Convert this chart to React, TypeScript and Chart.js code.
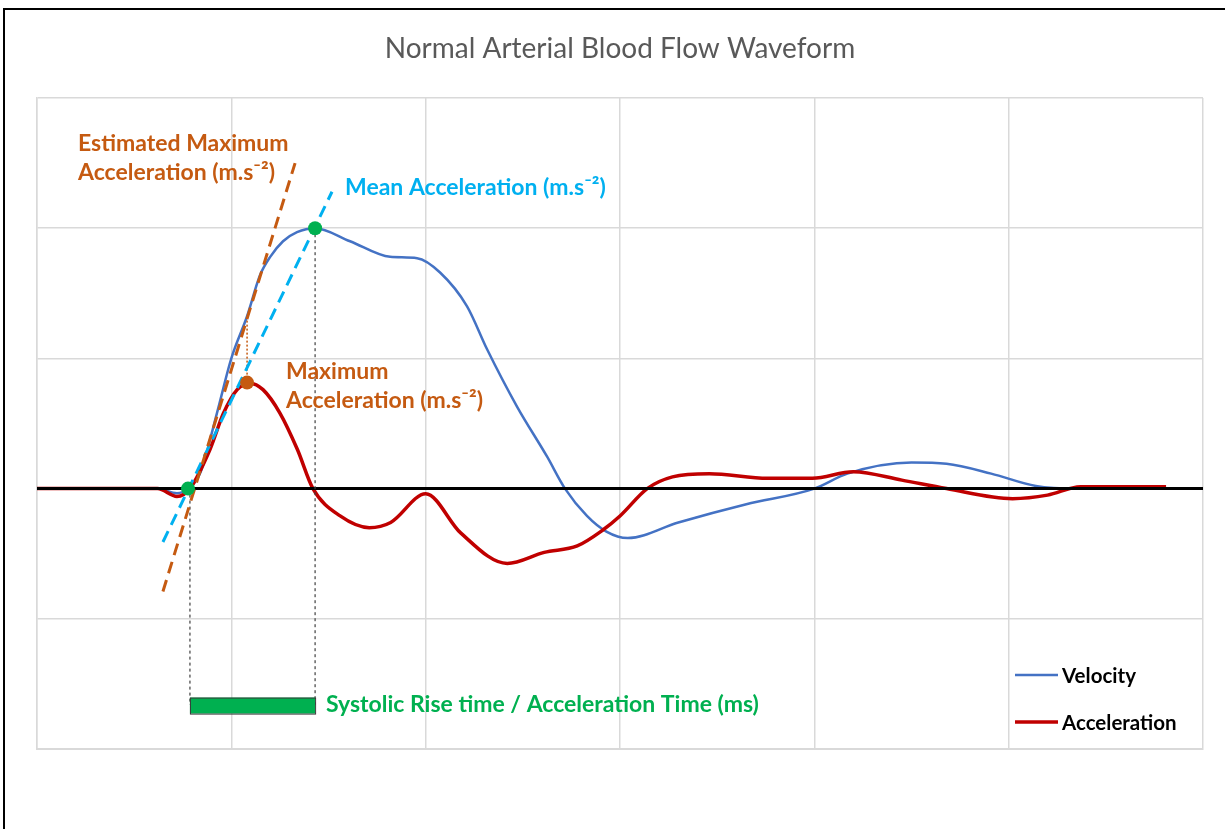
import React, { useEffect, useRef } from "react";
import { Chart, registerables } from "chart.js";

Chart.register(...registerables);

// ---- Data (x in 100 ms units, y in arbitrary units) ----
const velocityX = [0, 0.5, 0.62, 0.72, 0.777, 0.84, 0.926, 1.0, 1.08, 1.148, 1.2, 1.266, 1.338, 1.431, 1.611, 1.817, 1.956, 2.074, 2.213, 2.316, 2.47, 2.625, 2.717, 2.83, 2.93, 3.04, 3.3, 3.65, 4.0, 4.17, 4.5, 4.68, 4.91, 5.14, 5.35, 5.81];
const velocityY = [0, 0, 0, -0.035, 0, 0.12, 0.58, 1.0, 1.32, 1.64, 1.78, 1.9, 1.97, 2.0, 1.9, 1.78, 1.77, 1.66, 1.4, 1.07, 0.63, 0.245, 0, -0.21, -0.33, -0.38, -0.26, -0.12, 0, 0.115, 0.2, 0.19, 0.115, 0.02, 0, 0];

const accelerationX = [0, 0.5, 0.62, 0.72, 0.787, 0.89, 0.96, 1.03, 1.096, 1.163, 1.25, 1.34, 1.42, 1.56, 1.71, 1.82, 2.0, 2.18, 2.42, 2.61, 2.78, 2.91, 3.0, 3.14, 3.27, 3.46, 3.76, 3.99, 4.2, 4.45, 4.68, 5.02, 5.2, 5.37, 5.81];
const accelerationY = [0, 0, 0.0, -0.06, 0, 0.3, 0.58, 0.76, 0.81, 0.76, 0.58, 0.3, 0, -0.21, -0.3, -0.26, -0.04, -0.34, -0.575, -0.49, -0.44, -0.32, -0.21, 0, 0.09, 0.115, 0.08, 0.08, 0.13, 0.065, 0, -0.077, -0.05, 0.015, 0.015];

const estMaxLineX = [0.648, 1.328];
const estMaxLineY = [-0.79, 2.5];
const meanLineX = [0.648, 1.518];
const meanLineY = [-0.41, 2.28];
const keyPointsX = [0.777, 1.431];
const keyPointsY = [0, 2.0];
const maxAccPointX = [1.081];
const maxAccPointY = [0.814];
const maxAccGuideX = [1.081, 1.081];
const maxAccGuideY = [0.814, 1.31];
const riseStartGuideX = [0.787, 0.787];
const riseStartGuideY = [0, -1.66];
const riseEndGuideX = [1.431, 1.431];
const riseEndGuideY = [2.0, -1.66];
const riseBarX = [0.787, 1.431];
const riseBarY = [-1.605, -1.728];
const zeroLineY = 0;

const xRange = [0, 6];
const yRange = [-2, 3];

const titleText = "Normal Arterial Blood Flow Waveform";
const estMaxText = ["Estimated Maximum", "Acceleration (m.s\u207B\u00B2)"];
const meanText = ["Mean Acceleration (m.s\u207B\u00B2)"];
const maxAccText = ["Maximum", "Acceleration (m.s\u207B\u00B2)"];
const riseText = ["Systolic Rise time / Acceleration Time (ms)"];
const legendLabels = ["Velocity", "Acceleration"];

const FONT = 'Lato, "Open Sans", sans-serif';
const ORANGE = "#c55a11";
const CYAN = "#00b0f0";
const GREEN = "#00b050";
const BLUE = "#4472c4";
const RED = "#c00000";

const pts = (xs: number[], ys: number[]) => xs.map((v, i) => ({ x: v, y: ys[i] }));

const decorPlugin = {
  id: "decor",
  beforeDraw(chart: any) {
    const { ctx, width, height } = chart;
    ctx.save();
    ctx.fillStyle = "#ffffff";
    ctx.fillRect(0, 0, width, height);
    ctx.strokeStyle = "#000";
    ctx.lineWidth = 2;
    ctx.beginPath();
    ctx.moveTo(4, height);
    ctx.lineTo(4, 9);
    ctx.lineTo(width, 9);
    ctx.stroke();
    ctx.restore();
  },
  afterDatasetDraw(chart: any, args: any) {
    if (!args.meta || args.meta.label !== "Acceleration") return;
    const { ctx, chartArea } = chart;
    const y0 = chart.scales.y.getPixelForValue(zeroLineY);
    ctx.save();
    ctx.strokeStyle = "#000";
    ctx.lineWidth = 3;
    ctx.beginPath();
    ctx.moveTo(chartArea.left, y0);
    ctx.lineTo(chartArea.right, y0);
    ctx.stroke();
    ctx.restore();
  },
  afterDatasetsDraw(chart: any) {
    const { ctx } = chart;
    const xs = chart.scales.x;
    const ys = chart.scales.y;
    const x0 = xs.getPixelForValue(riseBarX[0]);
    const x1 = xs.getPixelForValue(riseBarX[1]);
    const y0 = ys.getPixelForValue(riseBarY[0]);
    const y1 = ys.getPixelForValue(riseBarY[1]);
    ctx.save();
    ctx.fillStyle = GREEN;
    ctx.fillRect(x0, y0, x1 - x0, y1 - y0);
    ctx.strokeStyle = "#3a3a3a";
    ctx.lineWidth = 1;
    ctx.strokeRect(x0 + 0.5, y0 + 0.5, x1 - x0, y1 - y0);
    ctx.restore();
  },
  afterDraw(chart: any) {
    const { ctx, chartArea } = chart;
    ctx.save();
    ctx.textBaseline = "alphabetic";
    ctx.textAlign = "center";
    ctx.fillStyle = "#595959";
    ctx.font = `28px ${FONT}`;
    ctx.fillText(titleText, (chartArea.left + chartArea.right) / 2, 58);

    ctx.textAlign = "left";
    ctx.font = `bold 23px ${FONT}`;
    ctx.fillStyle = ORANGE;
    ctx.fillText(estMaxText[0], 78, 151);
    ctx.fillText(estMaxText[1], 78, 180);
    ctx.fillText(maxAccText[0], 286, 379);
    ctx.fillText(maxAccText[1], 286, 408);
    ctx.fillStyle = CYAN;
    ctx.fillText(meanText[0], 345, 195);
    ctx.fillStyle = GREEN;
    ctx.fillText(riseText[0], 326, 712);

    // legend
    const colors = [BLUE, RED];
    const widths = [2.5, 3.5];
    const rows = [675, 722];
    ctx.font = `bold 20.5px ${FONT}`;
    legendLabels.forEach((lab, i) => {
      ctx.strokeStyle = colors[i];
      ctx.lineWidth = widths[i];
      ctx.beginPath();
      ctx.moveTo(1015, rows[i]);
      ctx.lineTo(1058, rows[i]);
      ctx.stroke();
      ctx.fillStyle = "#000";
      ctx.fillText(lab, 1062, rows[i] + 8);
    });
    ctx.restore();
  },
};

export default function App() {
  const ref = useRef<HTMLCanvasElement | null>(null);
  useEffect(() => {
    if (!ref.current) return;
    const dashed = (data: any, color: string, w: number, dash: number[]) => ({
      data,
      borderColor: color,
      backgroundColor: color,
      borderWidth: w,
      borderDash: dash,
      pointRadius: 0,
      fill: false,
      tension: 0,
    });
    const chart = new Chart(ref.current, {
      type: "line",
      data: {
        datasets: [
          { label: "Key points", data: pts(keyPointsX, keyPointsY), showLine: false, pointRadius: 7, pointBackgroundColor: GREEN, pointBorderWidth: 0, borderColor: GREEN },
          { label: "Max acceleration point", data: pts(maxAccPointX, maxAccPointY), showLine: false, pointRadius: 7, pointBackgroundColor: ORANGE, pointBorderWidth: 0, borderColor: ORANGE },
          { label: "Estimated maximum", ...dashed(pts(estMaxLineX, estMaxLineY), ORANGE, 3, [12, 7]) },
          { label: "Mean acceleration", ...dashed(pts(meanLineX, meanLineY), CYAN, 3, [12, 7]) },
          { label: "Guide", ...dashed(pts(maxAccGuideX, maxAccGuideY), ORANGE, 1.5, [2, 2]) },
          { label: "Rise start", ...dashed(pts(riseStartGuideX, riseStartGuideY), "#404040", 1.2, [3, 3]) },
          { label: "Rise end", ...dashed(pts(riseEndGuideX, riseEndGuideY), "#404040", 1.2, [3, 3]) },
          { label: "Acceleration", data: pts(accelerationX, accelerationY), borderColor: RED, backgroundColor: RED, borderWidth: 3.5, pointRadius: 0, cubicInterpolationMode: "monotone", fill: false },
          { label: "Velocity", data: pts(velocityX, velocityY), borderColor: BLUE, backgroundColor: BLUE, borderWidth: 2.5, pointRadius: 0, cubicInterpolationMode: "monotone", fill: false },
        ],
      },
      options: {
        animation: false,
        responsive: false,
        layout: { padding: { left: 37, right: 22, top: 98, bottom: 80 } },
        plugins: { legend: { display: false }, tooltip: { enabled: false }, title: { display: false } },
        scales: {
          x: {
            type: "linear",
            min: xRange[0],
            max: xRange[1],
            ticks: { display: false, stepSize: 1 },
            grid: { color: "#d9d9d9", lineWidth: 1.5, drawTicks: false },
            border: { display: true, color: "#d9d9d9", width: 2 },
          },
          y: {
            type: "linear",
            min: yRange[0],
            max: yRange[1],
            ticks: { display: false, stepSize: 1 },
            grid: { color: "#d9d9d9", lineWidth: 1.5, drawTicks: false },
            border: { display: true, color: "#d9d9d9", width: 1.5 },
          },
        },
      } as any,
      plugins: [decorPlugin],
    } as any);
    return () => chart.destroy();
  }, []);
  return (
    <canvas
      ref={ref}
      width={1225}
      height={829}
      style={{ position: "fixed", left: 0, top: 0, width: 1225, height: 829 }}
    />
  );
}
